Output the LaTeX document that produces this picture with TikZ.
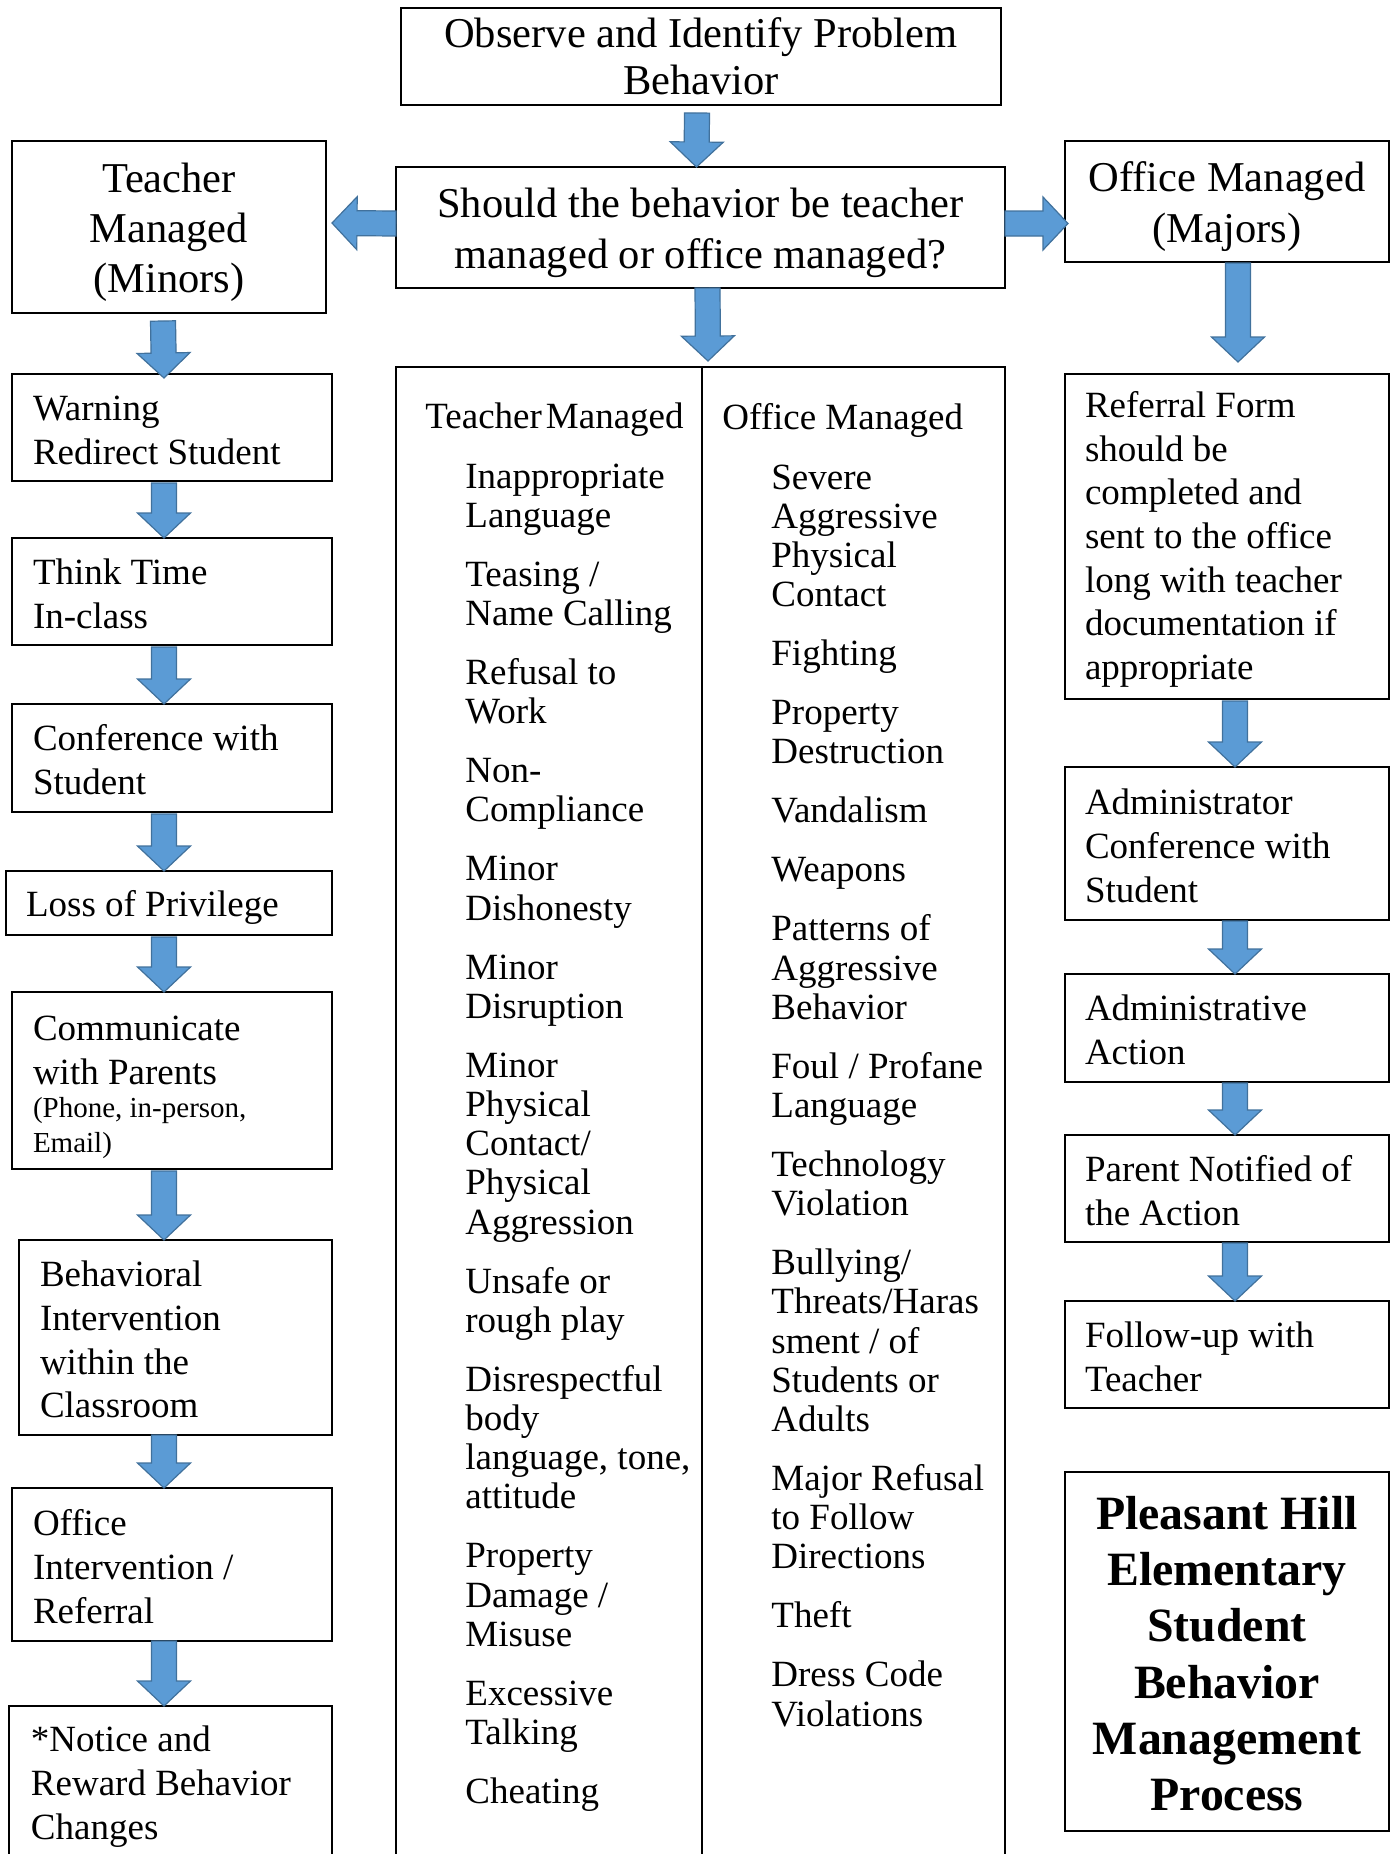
\documentclass[tikz,border=0pt]{standalone}
\usepackage{fontspec}
\setmainfont{Liberation Serif}
\usetikzlibrary{positioning,calc}
\definecolor{arrowfill}{HTML}{5B9BD5}
\definecolor{arrowedge}{HTML}{41719C}
\tikzset{box/.style={rectangle, draw=black, line width=0.9pt, inner sep=0pt, outer sep=0pt},
cbox/.style={box, align=center, font=\fontsize{21.25}{25}\selectfont},
lbox/.style={box, align=flush left, inner xsep=10.5pt, text width=139pt, minimum width=160pt,
font=\fontsize{18.5}{21.85}\selectfont},
rbox/.style={lbox, inner xsep=10pt, text width=142pt, minimum width=162pt},
col/.style={box, minimum width=153pt, minimum height=752pt},
colhead/.style={inner sep=0pt, anchor=base west, font=\fontsize{18.5}{19.6}\selectfont},
colitems/.style={colhead, align=flush left, text width=125pt},
blockarrow/.style={fill=arrowfill, draw=arrowedge, line width=0.6pt, line join=miter}}
\newcommand{\smallfont}{\fontsize{14.5}{17}\selectfont}
\newcommand{\tstrut}[1][15pt]{\rule{0pt}{#1}}
\newcommand{\nextitem}{\\[9.9pt]}
\newcommand{\blockarrow}[2]{
\coordinate (ba_s) at (#1);
\coordinate (ba_t) at (#2);
\coordinate (ba_h) at ($(ba_t)!12.5pt!(ba_s)$);
\filldraw [blockarrow] ($(ba_s)!6.25pt!90:(ba_t)$) -- ($(ba_h)!6.25pt!90:(ba_t)$)
-- ($(ba_h)!13.25pt!90:(ba_t)$) -- (ba_t) -- ($(ba_h)!13.25pt!-90:(ba_t)$)
-- ($(ba_h)!6.25pt!-90:(ba_t)$) -- ($(ba_s)!6.25pt!-90:(ba_t)$) -- cycle;
}
\begin{document}
\begin{tikzpicture}[x=0.5pt, y=-0.5pt]
    \useasboundingbox (0,0) rectangle (1396,1854);

    \node (observe) [cbox, minimum width=300pt, minimum height=48.5pt, font=\fontsize{21.25}{23.5}\selectfont] at (701,56.5) {Observe and Identify Problem\\Behavior};
    \node (decide) [cbox, minimum width=304.5pt, minimum height=60.5pt, font=\fontsize{21.25}{25.5}\selectfont] at (700.5,227.5) {\tstrut[20.3pt]Should the behavior be teacher\\managed or office managed?};
    \node (t_minor) [cbox, minimum width=157pt, minimum height=86pt] at (169,227) {\tstrut[20.5pt]Teacher\\Managed\\(Minors)};
    \node (o_major) [cbox, minimum width=162pt, minimum height=60.5pt, font=\fontsize{21.25}{25.5}\selectfont] at (1227,201.5) {\tstrut[20.5pt]Office Managed\\(Majors)};

    \node (warn) [lbox, minimum height=53.5pt] at (172,427.5) {\tstrut Warning\\Redirect Student};
    \node (think) [lbox, minimum height=53.5pt, below = 28.5pt of warn] {\tstrut Think Time\\In-class};
    \node (confer) [lbox, minimum height=54pt, below = 29.5pt of think] {\tstrut Conference with\\Student};
    \node (loss) [lbox, minimum height=32pt, inner xsep=10pt, text width=143pt, minimum width=163pt, below = 29.5pt of confer.south east, anchor=north east] {\tstrut[17.3pt]Loss of Privilege};
    \node (comm) [lbox, minimum height=88.5pt, below = 28.5pt of loss.south east, anchor=north east] {\tstrut[19pt]Communicate\\with Parents\\[-0.35pt]{\smallfont (Phone, in-person,\\[-4.25pt]Email)}};
    \node (behav) [lbox, minimum height=97.5pt, text width=135.5pt, minimum width=156.5pt, below = 35.5pt of comm.south east, anchor=north east] {\tstrut Behavioral\\Intervention\\within the\\Classroom};
    \node (off_int) [lbox, minimum height=76.5pt, below = 26.5pt of behav.south east, anchor=north east] {\tstrut Office\\Intervention /\\Referral};
    \node (notice) [lbox, minimum height=76pt, inner xsep=11pt, text width=139.5pt, minimum width=161.5pt, below = 32.5pt of off_int.south east, anchor=north east] {\tstrut[17.5pt]*Notice and\\Reward Behavior\\Changes};

    \node (col_t) [col, anchor=north west] at (396,367) {};
    \node (col_o) [col, minimum width=151.5pt, anchor=north west] at (702,367) {};
    \node (t_head) [colhead] at (425,428) {Teacher\hspace{2pt}Managed};
    \node (o_head) [colhead] at (722,429) {Office Managed};
    \node (t_list) [colitems] at (465,488) {Inappropriate\\Language\nextitem
    Teasing /\\Name Calling\nextitem
    Refusal to\\Work\nextitem
    Non-\\Compliance\nextitem
    Minor\\Dishonesty\nextitem
    Minor\\Disruption\nextitem
    Minor\\Physical\\Contact/\\Physical\\Aggression\nextitem
    Unsafe or\\rough play\nextitem
    Disrespectful\\body\\language, tone,\\attitude\nextitem
    Property\\Damage /\\Misuse\nextitem
    Excessive\\Talking\nextitem
    Cheating};
    \node (o_list) [colitems] at (771,489) {Severe\\Aggressive\\Physical\\Contact\nextitem
    Fighting\nextitem
    Property\\Destruction\nextitem
    Vandalism\nextitem
    Weapons\nextitem
    Patterns of\\Aggressive\\Behavior\nextitem
    Foul / Profane\\Language\nextitem
    Technology\\Violation\nextitem
    Bullying/\\Threats/Haras\\sment / of\\Students or\\Adults\nextitem
    Major Refusal\\to Follow\\Directions\nextitem
    Theft\nextitem
    Dress Code\\Violations};

    \node (referral) [rbox, minimum height=162.5pt] at (1227,536.5) {\tstrut[16pt]Referral Form\\should be\\completed and\\sent to the office\\long with teacher\\documentation if\\appropriate};
    \node (ad_conf) [rbox, minimum height=76.5pt, below = 34pt of referral] {\tstrut Administrator\\Conference with\\Student};
    \node (ad_act) [rbox, minimum height=54pt, below = 27pt of ad_conf] {\tstrut Administrative\\Action};
    \node (parent) [rbox, minimum height=53.5pt, below = 26.5pt of ad_act] {\tstrut Parent Notified of\\the Action};
    \node (follow) [rbox, minimum height=53.5pt, below = 29.5pt of parent] {\tstrut Follow-up with\\Teacher};
    \node (title) [cbox, minimum width=162pt, minimum height=179.5pt, font=\bfseries\fontsize{23.9}{28.15}\selectfont, below = 32pt of follow] {\tstrut[18.6pt]Pleasant Hill\\Elementary\\Student\\Behavior\\Management\\Process};

    \coordinate (lx) at (164,0);
    \coordinate (rx) at (1235,0);

    \blockarrow{$(observe.south)+(-4,8)$}{$(decide.north)+(-4,0)$}
    \blockarrow{$(decide.west)+(0,-4)$}{$(t_minor.east)+(6,-4)$}
    \blockarrow{$(decide.east)+(0,-4)$}{$(o_major.west)+(3,22)$}
    \blockarrow{$(decide.south)+(7,0)$}{$(col_t.north east)+(6,-6)$}
    \blockarrow{$(o_major.south)+(11,1)$}{$(referral.north)+(11,-12)$}
    \blockarrow{$(t_minor.south)+(-6,8)$}{$(warn.north)+(-8,4)$}

    \blockarrow{$(warn.south -| lx)+(0,2)$}{think.north -| lx}
    \blockarrow{$(think.south -| lx)+(0,2)$}{confer.north -| lx}
    \blockarrow{$(confer.south -| lx)+(0,2)$}{loss.north -| lx}
    \blockarrow{$(loss.south -| lx)+(0,2)$}{comm.north -| lx}
    \blockarrow{$(comm.south -| lx)+(0,2)$}{behav.north -| lx}
    \blockarrow{$(behav.south -| lx)+(0,0)$}{off_int.north -| lx}
    \blockarrow{$(off_int.south -| lx)+(0,0)$}{notice.north -| lx}

    \blockarrow{$(referral.south -| rx)+(0,2)$}{ad_conf.north -| rx}
    \blockarrow{$(ad_conf.south -| rx)+(0,1)$}{ad_act.north -| rx}
    \blockarrow{$(ad_act.south -| rx)+(0,1)$}{parent.north -| rx}
    \blockarrow{$(parent.south -| rx)+(0,1)$}{follow.north -| rx}

  \end{tikzpicture}
\end{document}
